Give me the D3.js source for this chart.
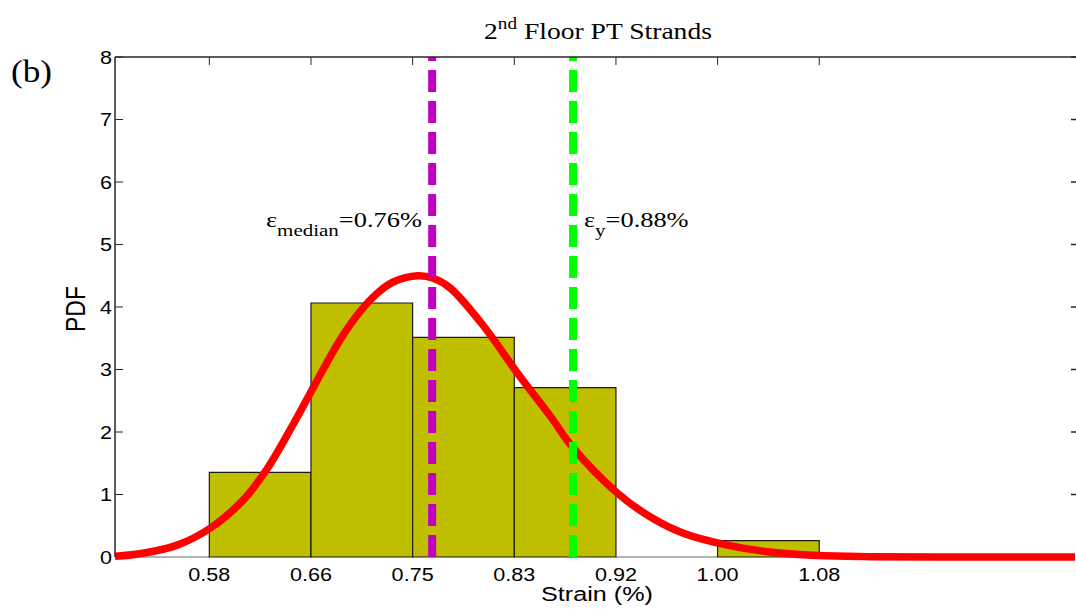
<!DOCTYPE html>
<html>
<head>
<meta charset="utf-8">
<script src="https://cdn.jsdelivr.net/npm/d3@7"></script>
<style>
  html, body { margin: 0; padding: 0; background: #fff; }
  svg { display: block; }
</style>
</head>
<body>
<svg id="chart" width="1076" height="615"></svg>
<script>
// ---------------- data ----------------
const binEdges   = [0.5, 0.58333, 0.66667, 0.75, 0.83333, 0.91667, 1.0, 1.08333];
const binHeights = [0, 1.355, 4.064, 3.515, 2.709, 0, 0.261];
const xTickValues = [0.58333, 0.66667, 0.75, 0.83333, 0.91667, 1.0, 1.08333];
const xTickLabels = ["0.58", "0.66", "0.75", "0.83", "0.92", "1.00", "1.08"];
const yTickValues = [0, 1, 2, 3, 4, 5, 6, 7, 8];
const pdfX = [0.506, 0.529, 0.557, 0.584, 0.611, 0.631, 0.652, 0.666, 0.680, 0.693, 0.707, 0.721, 0.734, 0.754, 0.767, 0.781, 0.808, 0.836, 0.863, 0.881, 0.918, 0.945, 0.972, 1.008, 1.041, 1.082, 1.123, 1.18, 1.293];
const pdfY = [0.01, 0.06, 0.19, 0.46, 0.91, 1.42, 2.12, 2.62, 3.12, 3.55, 3.93, 4.22, 4.40, 4.50, 4.46, 4.30, 3.70, 2.94, 2.25, 1.76, 1.02, 0.64, 0.38, 0.19, 0.085, 0.025, 0.006, 0.0, 0.0];
const medianStrain = 0.766;
const yieldStrain  = 0.8815;
const titleMain = "2", titleSup = "nd", titleRest = " Floor PT Strands";
const medianLabel = ["\u03b5", "median", "=0.76%"];
const yieldLabel  = ["\u03b5", "y", "=0.88%"];
const xAxisTitle = "Strain (%)";
const yAxisTitle = "PDF";
const panelLabel = "(b)";

// ---------------- layout ----------------
const L = 115, R = 1076, T = 57, B = 557;
const SX = 1.2; // horizontal stretch of the original figure's text
const svg = d3.select("#chart");
const x = d3.scaleLinear().domain([0.506, 1.293]).range([L, 1075]);
const y = d3.scaleLinear().domain([0, 8]).range([B, T]);

svg.append("defs").append("clipPath").attr("id", "plotclip")
  .append("rect").attr("x", L).attr("y", T - 2).attr("width", R - L).attr("height", B - T + 6);

const plot = svg.append("g").attr("clip-path", "url(#plotclip)");

// histogram bars
const bins = binHeights.map((h, i) => ({ x0: binEdges[i], x1: binEdges[i + 1], h }));
plot.selectAll("path.bar").data(bins).join("path")
  .attr("class", "bar")
  .attr("d", d => {
    const p = d3.path();
    p.moveTo(x(d.x0), y(0));
    p.lineTo(x(d.x0), y(d.h));
    p.lineTo(x(d.x1), y(d.h));
    p.lineTo(x(d.x1), y(0));
    p.closePath();
    return p.toString();
  })
  .attr("fill", d => d.h > 0 ? "#bfbf00" : "none")
  .attr("stroke", d => d.h > 0 ? "#1a1a1a" : "#666")
  .attr("stroke-width", 1.2);

// fitted PDF curve
const pts = pdfX.map((v, i) => [v, pdfY[i]]);
plot.append("path")
  .datum(pts)
  .attr("d", d3.line().x(d => x(d[0])).y(d => y(d[1])).curve(d3.curveCatmullRom.alpha(0.5)))
  .attr("fill", "none")
  .attr("stroke", "#ff0000")
  .attr("stroke-width", 7.5)
  .attr("stroke-linejoin", "round");

// vertical dashed lines
function vline(v, color) {
  plot.append("line")
    .attr("x1", x(v)).attr("x2", x(v))
    .attr("y1", y(0)).attr("y2", y(8))
    .attr("stroke", color)
    .attr("stroke-width", 8)
    .attr("stroke-dasharray", "22 9");
}
vline(medianStrain, "#bf00bf");
vline(yieldStrain, "#00ff00");

// axes frame
const axisColor = "#262626";
svg.append("line").attr("x1", L).attr("x2", R).attr("y1", T).attr("y2", T)
  .attr("stroke", axisColor).attr("stroke-width", 1.5);
svg.append("line").attr("x1", L).attr("x2", L).attr("y1", T).attr("y2", B)
  .attr("stroke", axisColor).attr("stroke-width", 1.5);

// top ticks (downwards)
svg.selectAll("line.tt").data(xTickValues).join("line")
  .attr("class", "tt")
  .attr("x1", d => x(d)).attr("x2", d => x(d))
  .attr("y1", T).attr("y2", T + 8)
  .attr("stroke", axisColor).attr("stroke-width", 1);

// left ticks
svg.selectAll("line.lt").data(yTickValues.filter(v => v > 0)).join("line")
  .attr("class", "lt")
  .attr("x1", L).attr("x2", L + 8)
  .attr("y1", d => y(d)).attr("y2", d => y(d))
  .attr("stroke", axisColor).attr("stroke-width", 1);

// right ticks
svg.selectAll("line.rt").data(yTickValues.filter(v => v > 0)).join("line")
  .attr("class", "rt")
  .attr("x1", 1071).attr("x2", R)
  .attr("y1", d => y(d)).attr("y2", d => y(d))
  .attr("stroke", axisColor).attr("stroke-width", 1.5);

const sans = "'Liberation Sans', Arial, sans-serif";
const serif = "'Liberation Serif', 'Times New Roman', serif";

// x tick labels
svg.selectAll("text.xl").data(xTickValues).join("text")
  .attr("class", "xl")
  .attr("transform", d => `translate(${x(d)},581) scale(${SX},1)`)
  .attr("text-anchor", "middle")
  .attr("font-family", sans).attr("font-size", 18)
  .text((d, i) => xTickLabels[i]);

// y tick labels
svg.selectAll("text.yl").data(yTickValues).join("text")
  .attr("class", "yl")
  .attr("transform", d => `translate(112,${y(d) + 6.5}) scale(${SX},1)`)
  .attr("text-anchor", "end")
  .attr("font-family", sans).attr("font-size", 18)
  .text(d => d);

// axis titles
svg.append("text")
  .attr("transform", `translate(597,601) scale(${SX},1)`)
  .attr("text-anchor", "middle")
  .attr("font-family", sans).attr("font-size", 21)
  .text(xAxisTitle);

svg.append("text")
  .attr("transform", `translate(85,309) scale(${SX},1) rotate(-90)`)
  .attr("text-anchor", "middle")
  .attr("font-family", sans).attr("font-size", 23)
  .text(yAxisTitle);

// title
const title = svg.append("text")
  .attr("transform", `translate(598,39) scale(${SX},1)`)
  .attr("text-anchor", "middle")
  .attr("font-family", serif).attr("font-size", 23);
title.append("tspan").text(titleMain);
title.append("tspan").attr("font-size", 16).attr("dy", -10).text(titleSup);
title.append("tspan").attr("dy", 10).text(titleRest);

// panel label
svg.append("text")
  .attr("transform", `translate(11,82) scale(1.1,1)`)
  .attr("font-family", serif).attr("font-size", 32)
  .text(panelLabel);

// annotations
function annot(parts, tx, ty) {
  const t = svg.append("text")
    .attr("transform", `translate(${tx},${ty}) scale(${SX},1)`)
    .attr("font-family", serif).attr("font-size", 22);
  t.append("tspan").text(parts[0]);
  t.append("tspan").attr("font-size", 17.5).attr("dy", 9).text(parts[1]);
  t.append("tspan").attr("dy", -9).text(parts[2]);
}
annot(medianLabel, 266, 227);
annot(yieldLabel, 584, 227);
</script>
</body>
</html>
